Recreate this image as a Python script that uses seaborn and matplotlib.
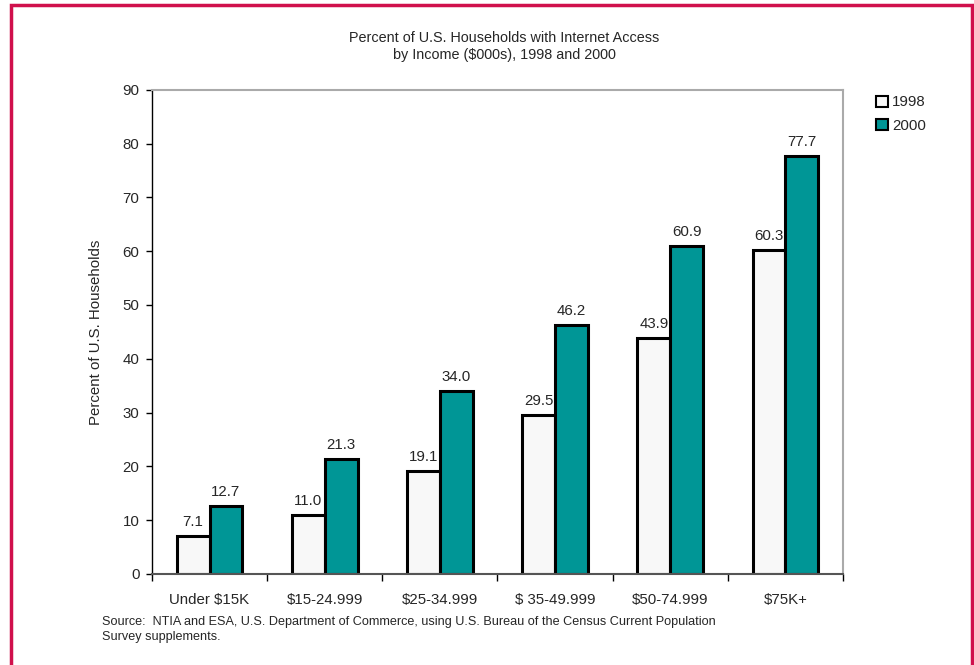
import pandas as pd
import matplotlib
matplotlib.use("Agg")
import matplotlib.pyplot as plt
import seaborn as sns
from matplotlib.patches import Rectangle

# data
categories = ["Under $15K", "$15-24.999", "$25-34.999", "$ 35-49.999", "$50-74.999", "$75K+"]
years = ["1998", "2000"]
values_1998 = [7.1, 11.0, 19.1, 29.5, 43.9, 60.3]
values_2000 = [12.7, 21.3, 34.0, 46.2, 60.9, 77.7]
yticks = [0, 10, 20, 30, 40, 50, 60, 70, 80, 90]

df = pd.DataFrame({
    "income": categories * 2,
    "year": [years[0]] * 6 + [years[1]] * 6,
    "pct": values_1998 + values_2000,
})

sns.set_theme(style="white")
plt.rcParams["font.family"] = ["Liberation Sans", "DejaVu Sans"]

fig = plt.figure(figsize=(9.74, 6.65), dpi=100)
ax = fig.add_axes([0.156, 0.137, 0.7095, 0.728])

palette = {"1998": "#F8F8F8", "2000": "#009696"}
sns.barplot(data=df, x="income", y="pct", hue="year", palette=palette,
            width=0.57, edgecolor="black", linewidth=2.2, ax=ax, legend=False,
            saturation=1)

for cont in ax.containers:
    ax.bar_label(cont, fmt="%.1f", padding=5, fontsize=10.8)

ax.set_ylim(0, 90)
ax.set_yticks(yticks)
ax.set_xlim(-0.5, 5.5)
ax.set_xticks(range(6))
ax.set_xticklabels(categories, fontsize=10.8)
ax.tick_params(axis="x", length=0, pad=14)
ax.tick_params(axis="y", length=4, width=1, color="black", labelsize=10.8, left=True, pad=5)
# ticks between categories
ax.set_xticks([i + 0.5 for i in range(-1, 6)], minor=True)
ax.tick_params(axis="x", which="minor", length=5, width=1, color="black", bottom=True)
ax.set_xlabel("")
ax.set_ylabel("Percent of U.S. Households", fontsize=10.8, labelpad=14)

ax.spines["left"].set_color("black")
ax.spines["left"].set_linewidth(1)
ax.spines["bottom"].set_color("#555555")
ax.spines["bottom"].set_linewidth(1.5)
for s in ["top", "right"]:
    ax.spines[s].set_color("#AAAAAA")
    ax.spines[s].set_linewidth(1.5)

# legend
handles = [Rectangle((0, 0), 1, 1, facecolor=palette[y], edgecolor="black", linewidth=1.5) for y in years]
fig.legend(handles, years, loc="upper left", bbox_to_anchor=(0.886, 0.877), frameon=False,
           fontsize=10.8, handlelength=0.75, handleheight=0.75, handletextpad=0.3, labelspacing=0.65)

fig.text(0.518, 0.930, "Percent of U.S. Households with Internet Access\nby Income ($000s), 1998 and 2000",
         ha="center", va="center", fontsize=10.4, linespacing=1.3)
fig.text(0.105, 0.033, "Source:  NTIA and ESA, U.S. Department of Commerce, using U.S. Bureau of the Census Current Population\nSurvey supplements.",
         ha="left", va="bottom", fontsize=9.1, linespacing=1.35)

# crimson frame
fig.add_artist(Rectangle((0.0113, -0.01), 0.9867, 1.003, transform=fig.transFigure,
                         fill=False, edgecolor="#D0104C", linewidth=2.5))

fig.savefig("out.png", dpi=100)
